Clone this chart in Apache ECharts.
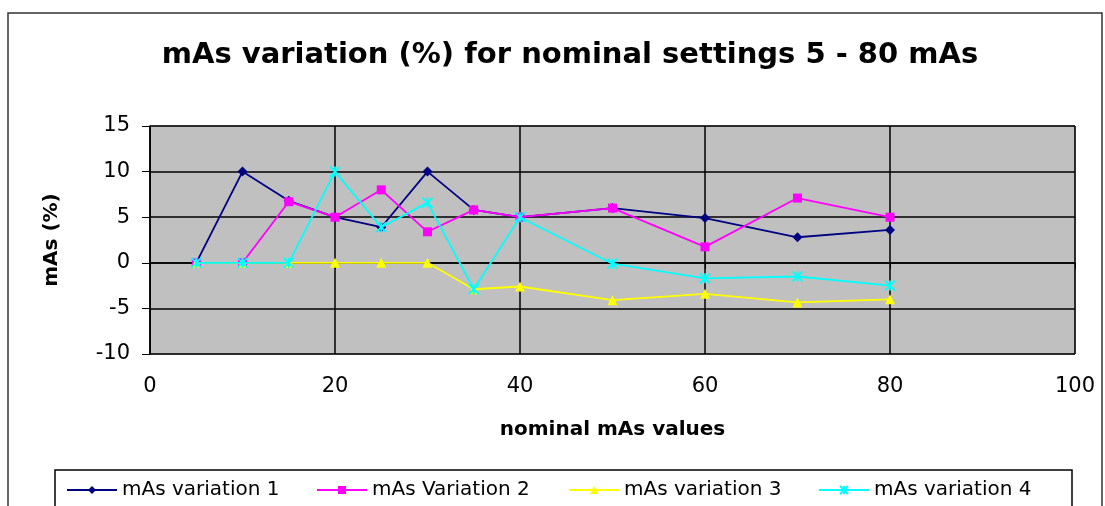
<!DOCTYPE html>
<html><head><meta charset="utf-8">
<script src="https://cdn.jsdelivr.net/npm/echarts@6/dist/echarts.min.js"></script>
<style>html,body{margin:0;padding:0;background:#fff}#c{width:1105px;height:506px}</style>
</head><body><div id="c"></div>
<script>
const xValues = [5, 10, 15, 20, 25, 30, 35, 40, 50, 60, 70, 80];
const variation1 = [0, 10, 6.8, 5, 3.9, 10, 5.8, 5, 6, 4.9, 2.8, 3.6];
const variation2 = [0, 0, 6.7, 5, 8.0, 3.4, 5.8, 5, 6.0, 1.75, 7.1, 5.0];
const variation3 = [0, 0, 0, 0, 0, 0, -2.9, -2.6, -4.1, -3.4, -4.35, -4.0];
const variation4 = [0, 0, 0, 10, 3.9, 6.6, -2.9, 5, -0.1, -1.7, -1.5, -2.5];
const seriesNames = ['mAs variation 1', 'mAs Variation 2', 'mAs variation 3', 'mAs variation 4'];
const xTicks = [0, 20, 40, 60, 80, 100];
const yTicks = [-10, -5, 0, 5, 10, 15];

const FONT = '"DejaVu Sans", "Liberation Sans", sans-serif';
const pairs = arr => xValues.map((x, i) => [x, arr[i]]);
const colors = ['#000080', '#FF00FF', '#FFFF00', '#00FFFF'];
const symbols = ['diamond', 'rect', 'triangle', 'path://M0,0L10,10M10,0L0,10M5,0L5,10'];
const sizes = [10, 9, 10, 10];
const allData = [variation1, variation2, variation3, variation4];
const legendLeft = [66, 316, 568, 818];

const chart = echarts.init(document.getElementById('c'), null, {renderer: 'canvas'});
chart.setOption({
  animation: false,
  backgroundColor: '#fff',
  title: {
    text: 'mAs variation (%) for nominal settings 5 - 80 mAs',
    left: 565, top: 36, textAlign: 'center',
    textStyle: {fontFamily: FONT, fontWeight: 'bold', fontSize: 29, color: '#000'}
  },
  graphic: [
    {type: 'rect', shape: {x: 8, y: 13, width: 1094, height: 500}, style: {fill: 'none', stroke: '#333', lineWidth: 1.5}, z: 0},
    {type: 'rect', shape: {x: 55, y: 470, width: 1017, height: 40}, style: {fill: '#fff', stroke: '#000', lineWidth: 1.5}, z: 0}
  ],
  legend: seriesNames.map((name, k) => ({
    left: legendLeft[k], top: 480, itemWidth: 50, itemHeight: 10, itemGap: 6,
    data: [name], padding: 0,
    textStyle: {fontFamily: FONT, fontSize: 20, color: '#000', padding: [0, 0, 0, 0]}
  })),
  grid: {
    left: 150, right: 30, top: 126, bottom: 152,
    show: true, backgroundColor: '#C0C0C0', borderColor: '#808080', borderWidth: 1
  },
  xAxis: {
    type: 'value', min: xTicks[0], max: xTicks[xTicks.length - 1], interval: 20,
    name: 'nominal mAs values', nameLocation: 'middle', nameGap: 66,
    nameTextStyle: {fontFamily: FONT, fontWeight: 'bold', fontSize: 20, color: '#000'},
    axisLine: {show: true, lineStyle: {color: '#000', width: 1.5}},
    axisTick: {show: true, length: 6, lineStyle: {color: '#000'}},
    axisLabel: {fontFamily: FONT, fontSize: 21, color: '#000', margin: 22},
    splitLine: {show: true, lineStyle: {color: '#000', width: 1.5}}
  },
  yAxis: {
    type: 'value', min: yTicks[0], max: yTicks[yTicks.length - 1], interval: 5,
    name: 'mAs (%)', nameLocation: 'middle', nameGap: 88, nameRotate: 90,
    nameTextStyle: {fontFamily: FONT, fontWeight: 'bold', fontSize: 20, color: '#000', padding: [0, 0, 0, 0]},
    axisLine: {show: true, lineStyle: {color: '#000', width: 1.5}},
    axisTick: {show: true, length: 8, lineStyle: {color: '#000'}},
    axisLabel: {fontFamily: FONT, fontSize: 21, color: '#000', margin: 20},
    splitLine: {show: true, lineStyle: {color: '#000', width: 1.5}}
  },
  series: seriesNames.map((name, k) => ({
    name, type: 'line', data: pairs(allData[k]),
    symbol: symbols[k], symbolSize: sizes[k], showSymbol: true,
    lineStyle: {color: colors[k], width: 1.8},
    itemStyle: {color: colors[k], borderColor: colors[k], borderWidth: k === 3 ? 1.8 : 0},
    z: 2 + k
  }))
});
</script></body></html>
